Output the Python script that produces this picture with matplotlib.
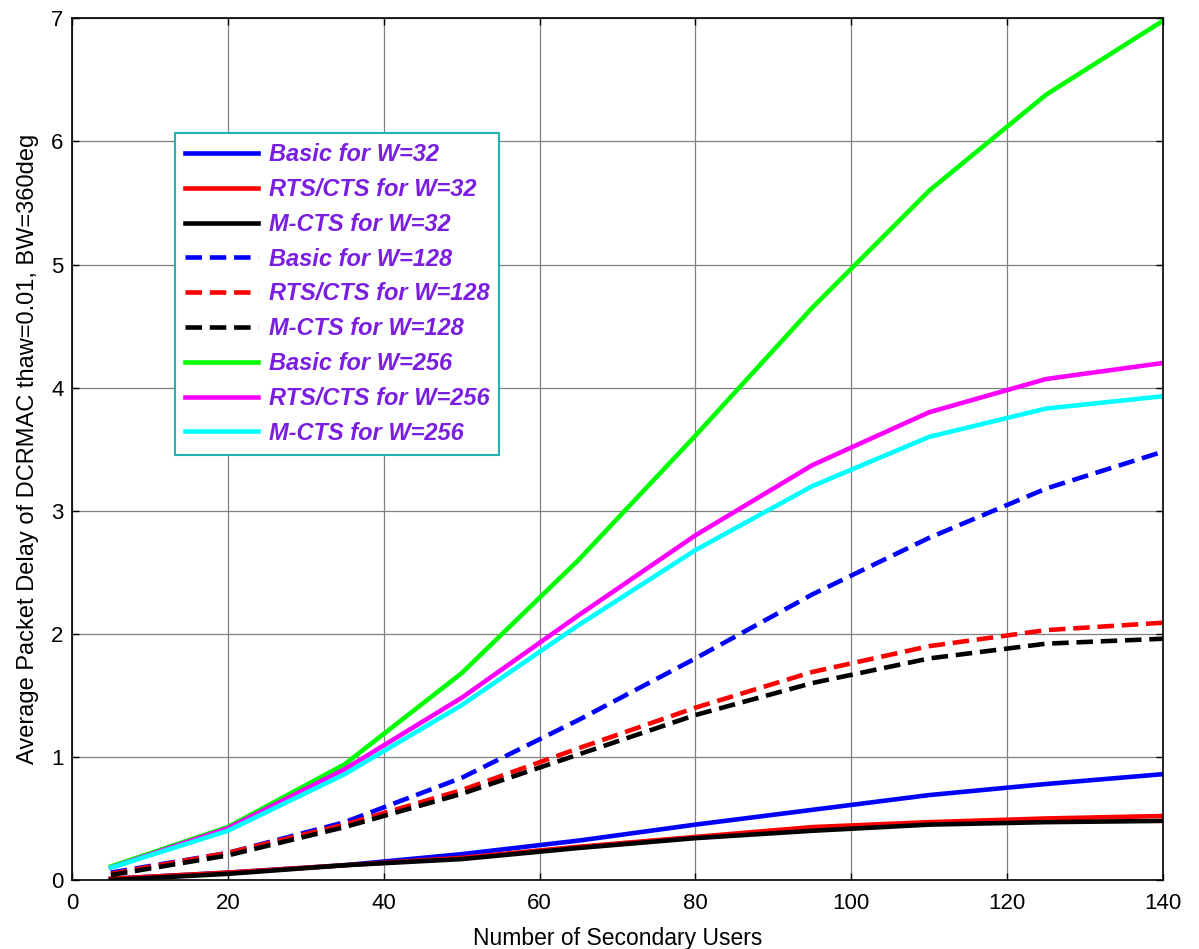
import matplotlib
matplotlib.use("Agg")
import matplotlib.pyplot as plt

x = [5, 20, 35, 50, 65, 80, 95, 110, 125, 140]

basic_32 = [0.01, 0.06, 0.12, 0.21, 0.32, 0.45, 0.57, 0.69, 0.78, 0.86]
rts_32 = [0.01, 0.06, 0.12, 0.18, 0.27, 0.35, 0.43, 0.47, 0.50, 0.52]
mcts_32 = [0.00, 0.05, 0.12, 0.17, 0.26, 0.34, 0.40, 0.45, 0.47, 0.48]
basic_128 = [0.06, 0.22, 0.47, 0.83, 1.30, 1.80, 2.32, 2.78, 3.18, 3.48]
rts_128 = [0.05, 0.22, 0.45, 0.73, 1.07, 1.40, 1.69, 1.90, 2.03, 2.09]
mcts_128 = [0.04, 0.20, 0.43, 0.70, 1.02, 1.34, 1.60, 1.80, 1.92, 1.96]
basic_256 = [0.11, 0.43, 0.94, 1.68, 2.60, 3.61, 4.65, 5.60, 6.38, 6.98]
rts_256 = [0.10, 0.42, 0.90, 1.48, 2.15, 2.80, 3.37, 3.80, 4.07, 4.20]
mcts_256 = [0.10, 0.40, 0.86, 1.42, 2.07, 2.68, 3.20, 3.60, 3.83, 3.93]

labels = ["Basic for W=32", "RTS/CTS for W=32", "M-CTS for W=32",
          "Basic for W=128", "RTS/CTS for W=128", "M-CTS for W=128",
          "Basic for W=256", "RTS/CTS for W=256", "M-CTS for W=256"]

series = [basic_32, rts_32, mcts_32, basic_128, rts_128, mcts_128,
          basic_256, rts_256, mcts_256]
colors = ["#0000ff", "#ff0000", "#000000", "#0000ff", "#ff0000", "#000000",
          "#00ff00", "#ff00ff", "#00ffff"]
styles = ["-", "-", "-", "--", "--", "--", "-", "-", "-"]

plt.rcParams['font.family'] = ['Liberation Sans', 'DejaVu Sans']

fig = plt.figure(figsize=(11.99, 9.49), dpi=100)
ax = fig.add_axes([0.060, 0.0727, 0.910, 0.908])

for y, c, s, l in zip(series, colors, styles, labels):
    line, = ax.plot(x, y, color=c, linestyle=s, linewidth=3.3, label=l)
    if s == "--":
        line.set_dashes([3.6, 1.7])

ax.set_xlim(0, 140)
ax.set_ylim(0, 7)
ax.set_xticks(range(0, 141, 20))
ax.set_yticks(range(0, 8))
ax.grid(True, color="#808080", linewidth=0.9, linestyle="-")
ax.set_axisbelow(True)
ax.tick_params(direction="in", top=True, right=True, labelsize=16, length=5, width=1)
ax.tick_params(axis="x", pad=9)
ax.tick_params(axis="y", pad=6)
for sp in ax.spines.values():
    sp.set_linewidth(1.2)

ax.set_xlabel("Number of Secondary Users", fontsize=16.5, labelpad=10)
ax.set_ylabel("Average Packet Delay of DCRMAC thaw=0.01, BW=360deg", fontsize=17, labelpad=9)

leg = ax.legend(loc="upper left", bbox_to_anchor=(0.0944, 0.8666), borderaxespad=0,
                fancybox=False, framealpha=1, edgecolor="#22b2b2",
                prop={'size': 17, 'weight': 'bold', 'style': 'italic'},
                handlelength=3.1, handletextpad=0.45, labelspacing=0.5,
                borderpad=0.42)
leg.get_frame().set_linewidth(1.5)
for t in leg.get_texts():
    t.set_color("#7a1ee0")

fig.savefig("out.png", dpi=100)
